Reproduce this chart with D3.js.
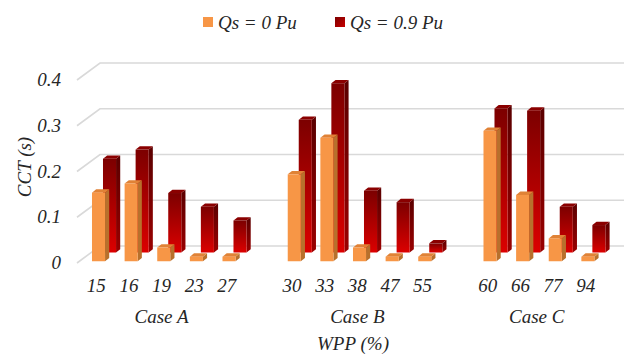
<!DOCTYPE html>
<html>
<head>
<meta charset="utf-8">
<script src="https://cdn.jsdelivr.net/npm/d3@7"></script>
</head>
<body style="margin:0;background:#fff">
<div id="chart"></div>
<script>
// data
const groups = ["Case A", "Case B", "Case C"];
const wpp = [["15", "16", "19", "23", "27"], ["30", "33", "38", "47", "55"], ["60", "66", "77", "94"]];
const qs0 = [0.15, 0.17, 0.03, 0.01, 0.01, 0.19, 0.27, 0.03, 0.01, 0.01, 0.285, 0.145, 0.05, 0.01];
const qs09 = [0.205, 0.225, 0.13, 0.1, 0.07, 0.29, 0.37, 0.135, 0.11, 0.02, 0.315, 0.31, 0.1, 0.06];
const yTicks = [0, 0.1, 0.2, 0.3, 0.4];
const seriesNames = ["Qs = 0 Pu", "Qs = 0.9 Pu"];

const width = 624, height = 358;
const margin = {left: 77, right: 23, top: 80, bottom: 95};
const DX = 22, DY = 17.5;   // depth vector of the 3-D box

const svg = d3.select("#chart").append("svg")
	.attr("width", width)
	.attr("height", height);

// every label uses the same italic serif
const label = sel => sel
	.style("font-family", "'Liberation Serif'")
	.style("font-style", "italic")
	.style("font-size", "19px")
	.attr("fill", "#262626");

// slots: every category plus one empty slot between the groups
let slots = [];
let rows = [];
groups.forEach((g, gi) => {
	if (gi > 0) slots.push("gap" + gi);
	wpp[gi].forEach(c => {
		let key = g + "/" + c;
		slots.push(key);
		rows.push({key, label: c, group: g, v0: qs0[rows.length], v9: qs09[rows.length]});
	});
});

const x = d3.scaleBand()
	.domain(slots)
	.range([margin.left + 3, width - margin.right + 1])
	.paddingInner(0.6)
	.paddingOuter(0.3);

const y = d3.scaleLinear()
	.domain([0, 0.4])
	.range([height - margin.bottom, margin.top]);

const P = (px, v, d) => [px + d * DX, y(v) - d * DY];

// gradients
const defs = svg.append("defs");
function grad(id, c1, c2, x2, y2) {
	let gr = defs.append("linearGradient").attr("id", id)
		.attr("x1", 0).attr("y1", 0).attr("x2", x2).attr("y2", y2);
	gr.append("stop").attr("offset", 0).attr("stop-color", c1);
	gr.append("stop").attr("offset", 1).attr("stop-color", c2);
}
grad("redFront", "#7c0000", "#dc0000", 0, 1);
grad("redSide", "#5a0000", "#9a0000", 0, 1);
grad("redLegend", "#7c0000", "#c80000", 1, 1);

// gridlines: side wall diagonal + back wall
svg.append("g")
	.selectAll("polyline")
	.data(yTicks)
	.enter()
	.append("polyline")
	.attr("fill", "none")
	.attr("stroke", "#d9d9d9")
	.attr("stroke-width", 1.6)
	.attr("points", d => {
		let a = [margin.left, y(d)];
		let b = [margin.left + 23, y(d) - 17];
		let c = [width, y(d) - 17];
		return [a, b, c].map(p => p.join(",")).join(" ");
	});

// y axis labels
svg.append("g")
	.selectAll("text")
	.data(yTicks)
	.enter()
	.append("text")
	.attr("x", 61)
	.attr("y", d => y(d) + 6)
	.attr("text-anchor", "end")
	.call(label)
	.text(d => d === 0 ? "0" : d3.format(".1f")(d));

// 3-D bars
const series = [
	{key: "v9", d1: 0.6, d2: 0.79, front: "url(#redFront)", side: "url(#redSide)", top: "#8a0000"},
	{key: "v0", d1: 0.1, d2: 0.29, front: "#f79646", side: "#b8702c", top: "#e08236"}
];
const poly = pts => pts.map(p => p.join(",")).join(" ");

series.forEach(s => {
	let g = svg.append("g");
	let bw = x.bandwidth();
	let bars = g.selectAll("g.bar")
		.data(rows)
		.enter()
		.append("g")
		.attr("class", "bar");

	bars.append("polygon")
		.attr("fill", s.side)
		.attr("points", d => {
			let xr = x(d.key) + bw;
			return poly([P(xr, 0, s.d1), P(xr, d[s.key], s.d1), P(xr, d[s.key], s.d2), P(xr, 0, s.d2)]);
		});

	bars.append("polygon")
		.attr("fill", s.top)
		.attr("points", d => {
			let xl = x(d.key), xr = xl + bw, v = d[s.key];
			return poly([P(xl, v, s.d1), P(xr, v, s.d1), P(xr, v, s.d2), P(xl, v, s.d2)]);
		});

	bars.append("rect")
		.attr("fill", s.front)
		.attr("x", d => P(x(d.key), 0, s.d1)[0])
		.attr("y", d => P(0, d[s.key], s.d1)[1])
		.attr("width", bw)
		.attr("height", d => y(0) - y(d[s.key]));
});

// category labels
svg.append("g")
	.selectAll("text")
	.data(rows)
	.enter()
	.append("text")
	.attr("x", d => x(d.key) + x.bandwidth() / 2)
	.attr("y", 292)
	.attr("text-anchor", "middle")
	.call(label)
	.text(d => d.label);

// group labels
svg.append("g")
	.selectAll("text")
	.data(groups)
	.enter()
	.append("text")
	.attr("x", (g, gi) => {
		let first = x(g + "/" + wpp[gi][0]);
		let last = x(g + "/" + wpp[gi][wpp[gi].length - 1]);
		return (first + last) / 2 + x.bandwidth() / 2;
	})
	.attr("y", 323)
	.attr("text-anchor", "middle")
	.call(label)
	.text(d => d);

// axis titles
svg.append("text")
	.attr("x", 353)
	.attr("y", 350)
	.attr("text-anchor", "middle")
	.call(label)
	.text("WPP (%)");

svg.append("text")
	.attr("transform", "translate(31,167) rotate(-90)")
	.attr("text-anchor", "middle")
	.call(label)
	.text("CCT (s)");

// legend
const legend = svg.append("g");
const legendX = [203, 335];
const legendFill = ["#f79646", "url(#redLegend)"];
seriesNames.forEach((name, i) => {
	legend.append("rect")
		.attr("x", legendX[i])
		.attr("y", 17)
		.attr("width", 10)
		.attr("height", 10)
		.attr("fill", legendFill[i]);
	legend.append("text")
		.attr("x", legendX[i] + 15)
		.attr("y", 29)
		.call(label)
		.text(name);
});
</script>
</body>
</html>
